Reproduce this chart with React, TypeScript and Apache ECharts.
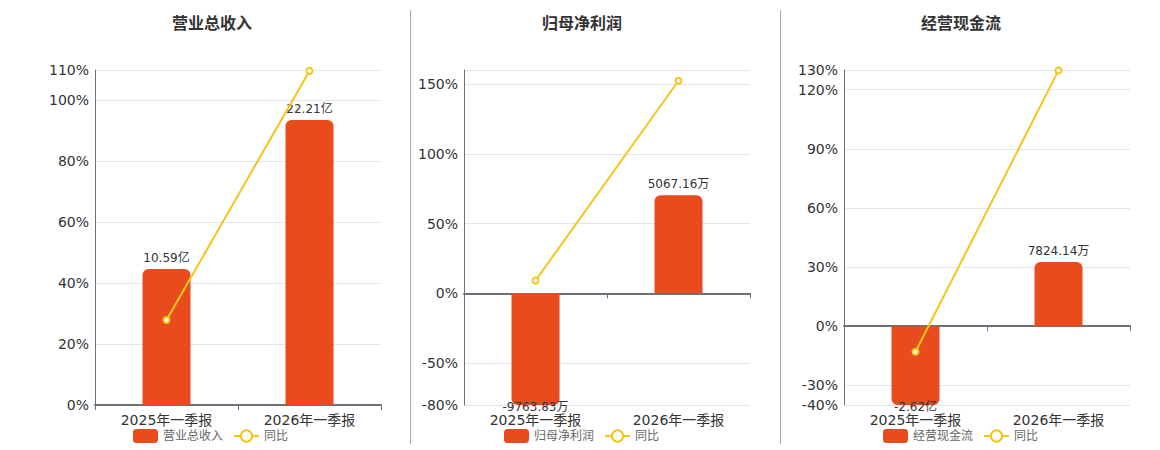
import React, { useEffect, useRef } from "react";
import * as echarts from "echarts";

const categories = ["2025年一季报", "2026年一季报"];
const titles = ["营业总收入", "归母净利润", "经营现金流"];
// values in 万元
const revenue = [105900, 222100];
const netProfit = [-9763.83, 5067.16];
const cashFlow = [-26200, 7824.14];
// yoy in %
const revenueYoy = [27.9, 109.7];
const netProfitYoy = [9.1, 152.3];
const cashFlowYoy = [-13.0, 129.8];
// axis ranges
const yoyMin = [0, -80, -40];
const yoyMax = [110, 160, 130];
const yoySplit = [5, 5, 6];
const showMaxLabel = [true, false, true];
const barMin = [0, -5765, -9600];
const barMax = [261000, 11530, 31200];

const BAR_COLOR = "#E84B1C";
const LINE_COLOR = "#F4C51B";
const FONT = "'DejaVu Sans', 'Noto Sans CJK SC', sans-serif";

function fmtAmount(v: number): string {
  if (Math.abs(v) >= 10000) return (v / 10000).toFixed(2) + "亿";
  return v.toFixed(2) + "万";
}

export default function App() {
  const ref = useRef<HTMLDivElement>(null);
  useEffect(() => {
    if (!ref.current) return;
    const chart = echarts.init(ref.current, null, { renderer: "svg" });
    const barsData = [revenue, netProfit, cashFlow];
    const yoyData = [revenueYoy, netProfitYoy, cashFlowYoy];
    const gridLefts = [95, 464, 844];
    const titleLefts = [167, 537, 916];
    const legendLefts = [128, 499, 878];

    const grid: any[] = [];
    const xAxis: any[] = [];
    const yAxis: any[] = [];
    const series: any[] = [];
    const legend: any[] = [];
    const title: any[] = [];

    for (let i = 0; i < 3; i++) {
      grid.push({ left: gridLefts[i], width: 286, top: 70, bottom: 45 });
      title.push({
        text: titles[i],
        left: titleLefts[i],
        top: 10,
        textStyle: { fontSize: 16, fontWeight: "bold", color: "#333", fontFamily: FONT },
      });
      legend.push({
        data: [
          { name: titles[i], icon: "roundRect" },
          { name: "同比" },
        ],
        left: legendLefts[i],
        top: 424,
        itemWidth: 25,
        itemHeight: 14,
        itemGap: 10,
        textStyle: { fontSize: 12, color: "#666", fontFamily: FONT },
        selectedMode: false,
      });
      // axis line on zero with ticks
      xAxis.push({
        type: "category",
        gridIndex: i,
        data: categories,
        axisLine: {
          show: true,
          onZero: true,
          onZeroAxisIndex: i * 2,
          lineStyle: { color: "#6E7079", width: 2 },
        },
        axisTick: { show: true, length: 5, lineStyle: { color: "#6E7079" } },
        axisLabel: { show: false },
      });
      // labels at bottom
      xAxis.push({
        type: "category",
        gridIndex: i,
        data: categories,
        position: "bottom",
        axisLine: { show: false, onZero: false },
        axisTick: { show: false },
        axisLabel: { show: true, fontSize: 14, color: "#333", margin: 8, fontFamily: FONT },
      });
      yAxis.push({
        type: "value",
        gridIndex: i,
        min: yoyMin[i],
        max: yoyMax[i],
        splitNumber: yoySplit[i],
        axisLine: { show: true, lineStyle: { color: "#6E7079", width: 1 } },
        axisTick: { show: false },
        axisLabel: {
          fontSize: 14,
          color: "#333",
          margin: 6,
          fontFamily: FONT,
          showMaxLabel: showMaxLabel[i],
          formatter: (v: number) => v + "%",
        },
        splitLine: { show: true, lineStyle: { color: "#E0E6F1" } },
      });
      yAxis.push({
        type: "value",
        gridIndex: i,
        min: barMin[i],
        max: barMax[i],
        show: false,
        splitLine: { show: false },
      });
      series.push({
        name: titles[i],
        type: "bar",
        xAxisIndex: i * 2,
        yAxisIndex: i * 2 + 1,
        barWidth: 48,
        clip: true,
        itemStyle: { color: BAR_COLOR },
        data: barsData[i].map((v) => ({
          value: v,
          itemStyle: { borderRadius: v >= 0 ? [6, 6, 0, 0] : [0, 0, 6, 6] },
          label: {
            show: true,
            position: v >= 0 ? "top" : "bottom",
            distance: v >= 0 ? 5 : -4,
            fontSize: 12,
            color: "#333",
            fontFamily: FONT,
            formatter: () => fmtAmount(v),
          },
        })),
      });
      series.push({
        name: "同比",
        type: "line",
        xAxisIndex: i * 2,
        yAxisIndex: i * 2,
        symbol: "emptyCircle",
        symbolSize: 6,
        lineStyle: { color: LINE_COLOR, width: 2 },
        itemStyle: { color: LINE_COLOR, borderColor: LINE_COLOR, borderWidth: 1.5 },
        data: yoyData[i],
        z: 3,
      });
    }

    chart.setOption({
      animation: false,
      textStyle: { fontFamily: FONT },
      title,
      legend,
      grid,
      xAxis,
      yAxis,
      series,
      graphic: [
        {
          type: "line",
          shape: { x1: 410.5, y1: 10, x2: 410.5, y2: 444 },
          style: { stroke: "#AAAAAA", lineWidth: 1 },
        },
        {
          type: "line",
          shape: { x1: 780.5, y1: 10, x2: 780.5, y2: 444 },
          style: { stroke: "#AAAAAA", lineWidth: 1 },
        },
      ],
    });
    return () => chart.dispose();
  }, []);
  return (
    <div
      ref={ref}
      style={{ position: "absolute", left: 0, top: 0, width: 1160, height: 450 }}
    />
  );
}
